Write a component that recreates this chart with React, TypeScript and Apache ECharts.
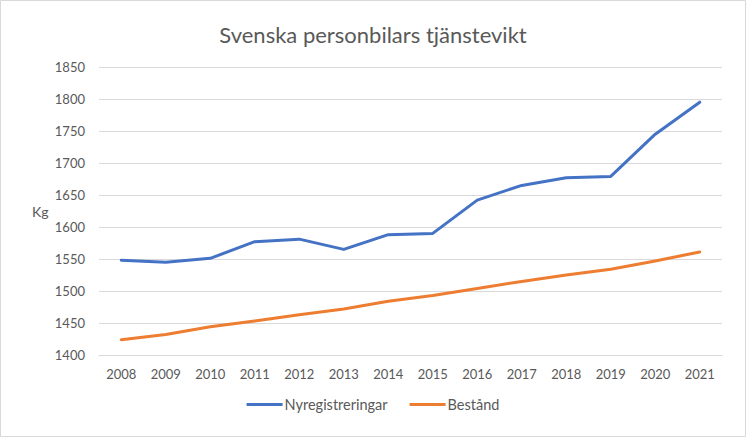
import React, { useEffect, useRef } from "react";
import * as echarts from "echarts";

const years = ["2008","2009","2010","2011","2012","2013","2014","2015","2016","2017","2018","2019","2020","2021"];
const nyregistreringar = [1548, 1545, 1551, 1577, 1581, 1565, 1588, 1590, 1642, 1665, 1677, 1679, 1745, 1795];
const bestand = [1424, 1432, 1444, 1453, 1463, 1472, 1484, 1493, 1504, 1515, 1525, 1534, 1547, 1561];

const FONT = "Lato, 'Open Sans', sans-serif";
const TXT = "#595959";

export default function App() {
  const ref = useRef<HTMLDivElement>(null);
  useEffect(() => {
    if (!ref.current) return;
    const chart = echarts.init(ref.current, undefined, { renderer: "svg" });
    chart.setOption({
      animation: false,
      backgroundColor: "#ffffff",
      textStyle: { fontFamily: FONT },
      title: {
        text: "Svenska personbilars tjänstevikt",
        left: "center",
        top: 18,
        textStyle: { fontFamily: FONT, fontSize: 22, fontWeight: "normal", color: TXT },
      },
      graphic: [
        {
          type: "rect",
          shape: { x: 0.5, y: 0.5, width: 745, height: 436 },
          style: { fill: "none", stroke: "#d9d9d9", lineWidth: 1 },
          silent: true,
        },
        {
          type: "text",
          left: 32,
          top: 204,
          style: { text: "Kg", font: `14px ${FONT}`, fill: TXT },
        },
      ],
      legend: {
        bottom: 20,
        left: "center",
        icon: "rect",
        itemWidth: 36,
        itemHeight: 3,
        itemGap: 22,
        textStyle: { fontFamily: FONT, fontSize: 14.5, color: TXT, padding: [0, 0, 0, -3] },
        data: ["Nyregistreringar", "Bestånd"],
      },
      grid: { left: 99, right: 24, top: 67, bottom: 82, containLabel: false },
      xAxis: {
        type: "category",
        data: years,
        boundaryGap: true,
        axisLine: { show: true, lineStyle: { color: "#d9d9d9" } },
        axisTick: { show: false },
        axisLabel: { color: TXT, fontFamily: FONT, fontSize: 13, margin: 12 },
      },
      yAxis: {
        type: "value",
        min: 1400,
        max: 1850,
        interval: 50,
        axisLine: { show: false },
        axisTick: { show: false },
        axisLabel: {
          color: TXT,
          fontFamily: FONT,
          fontSize: 13,
          margin: 14,
          formatter: (v: number) => String(v),
        },
        splitLine: { lineStyle: { color: "#d9d9d9", width: 1 } },
      },
      series: [
        {
          name: "Nyregistreringar",
          type: "line",
          data: nyregistreringar,
          symbol: "none",
          itemStyle: { color: "#4472c4" },
          lineStyle: { color: "#4472c4", width: 3, cap: "round", join: "round" },
        },
        {
          name: "Bestånd",
          type: "line",
          data: bestand,
          symbol: "none",
          itemStyle: { color: "#ed7d31" },
          lineStyle: { color: "#ed7d31", width: 3, cap: "round", join: "round" },
        },
      ],
    });
    return () => chart.dispose();
  }, []);
  return (
    <div
      ref={ref}
      style={{ position: "fixed", left: 0, top: 0, width: 746, height: 437 }}
    />
  );
}
